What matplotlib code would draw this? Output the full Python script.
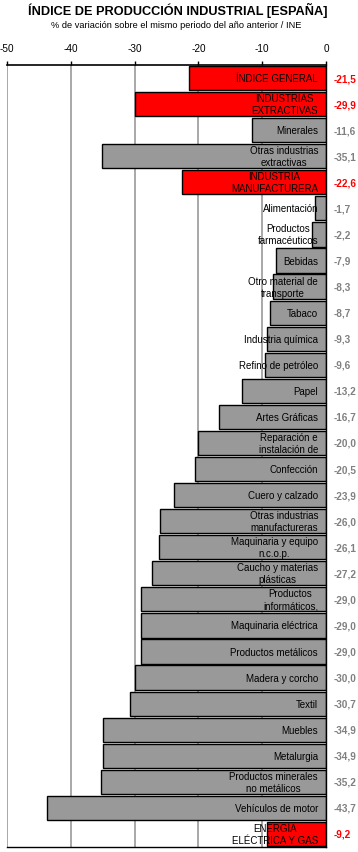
import matplotlib
matplotlib.use("Agg")
import matplotlib.pyplot as plt

categories = [
    "ÍNDICE GENERAL", "INDUSTRIAS\nEXTRACTIVAS", "Minerales",
    "Otras industrias\nextractivas", "INDUSTRIA\nMANUFACTURERA", "Alimentación",
    "Productos\nfarmacéuticos", "Bebidas", "Otro material de\ntransporte",
    "Tabaco", "Industria química", "Refino de petróleo", "Papel",
    "Artes Gráficas", "Reparación e\ninstalación de", "Confección",
    "Cuero y calzado", "Otras industrias\nmanufactureras",
    "Maquinaria y equipo\nn.c.o.p.", "Caucho y materias\nplásticas",
    "Productos\ninformáticos,", "Maquinaria eléctrica", "Productos metálicos",
    "Madera y corcho", "Textil", "Muebles", "Metalurgia",
    "Productos minerales\nno metálicos", "Vehículos de motor",
    "ENERGÍA\nELÉCTRICA Y GAS",
]
values = [-21.5, -29.9, -11.6, -35.1, -22.6, -1.7, -2.2, -7.9, -8.3, -8.7,
          -9.3, -9.6, -13.2, -16.7, -20.0, -20.5, -23.9, -26.0, -26.1, -27.2,
          -29.0, -29.0, -29.0, -30.0, -30.7, -34.9, -34.9, -35.2, -43.7, -9.2]
highlight = [True, True, False, False, True] + [False] * 24 + [True]
xticks = [-50, -40, -30, -20, -10, 0]

W, H = 358, 853
fig = plt.figure(figsize=(W / 100, H / 100), dpi=100)
fig.patch.set_facecolor("white")
ax = fig.add_axes([7 / W, 1 - 848 / H, (326 - 7) / W, (848 - 66) / H])

n = len(categories)
ys = list(range(n))
colors = ["#ff0000" if h else "#999999" for h in highlight]
ax.barh(ys, values, height=0.93, color=colors, edgecolor="black", linewidth=1.0, zorder=2)

ax.set_xlim(-50, 0)
ax.set_ylim(n - 0.5, -0.5)
ax.set_xticks(xticks)
ax.set_xticklabels([str(t) for t in xticks], fontsize=7.2, family="Liberation Sans")
ax.xaxis.tick_top()
ax.tick_params(axis="x", direction="out", length=3, width=1, pad=6, color="black")
ax.set_yticks([])
for t in xticks[:-1]:
    ax.axvline(t, color="#999999", linewidth=1.2, zorder=1)

ax.spines["top"].set_linewidth(1.2)
ax.spines["left"].set_visible(False)
ax.spines["right"].set_linewidth(1.0)
ax.spines["bottom"].set_linewidth(1.0)

for y, cat, v, h in zip(ys, categories, values, highlight):
    ax.text(-1.25, y, cat, ha="right", va="center", fontsize=7,
            family="Liberation Sans", color="black", zorder=3,
            linespacing=1.25, multialignment="center" if "\n" in cat else "right")
    ax.annotate(f"{v:.1f}".replace(".", ","), xy=(1, y), xycoords=("axes fraction", "data"),
                xytext=(8, 0), textcoords="offset pixels",
                ha="left", va="center", fontsize=7.2, fontweight="bold",
                family="Liberation Sans", color="#ff0000" if h else "#808080")

fig.text(178 / W, 1 - 10 / H, "ÍNDICE DE PRODUCCIÓN INDUSTRIAL [ESPAÑA]", ha="center",
         va="center", fontsize=9.2, fontweight="bold", family="Liberation Sans")
fig.text(176 / W, 1 - 26 / H, "% de variación sobre el mismo periodo del año anterior / INE",
         ha="center", va="center", fontsize=6.7, family="Liberation Sans")

fig.savefig("out.png", dpi=100, facecolor="white")
